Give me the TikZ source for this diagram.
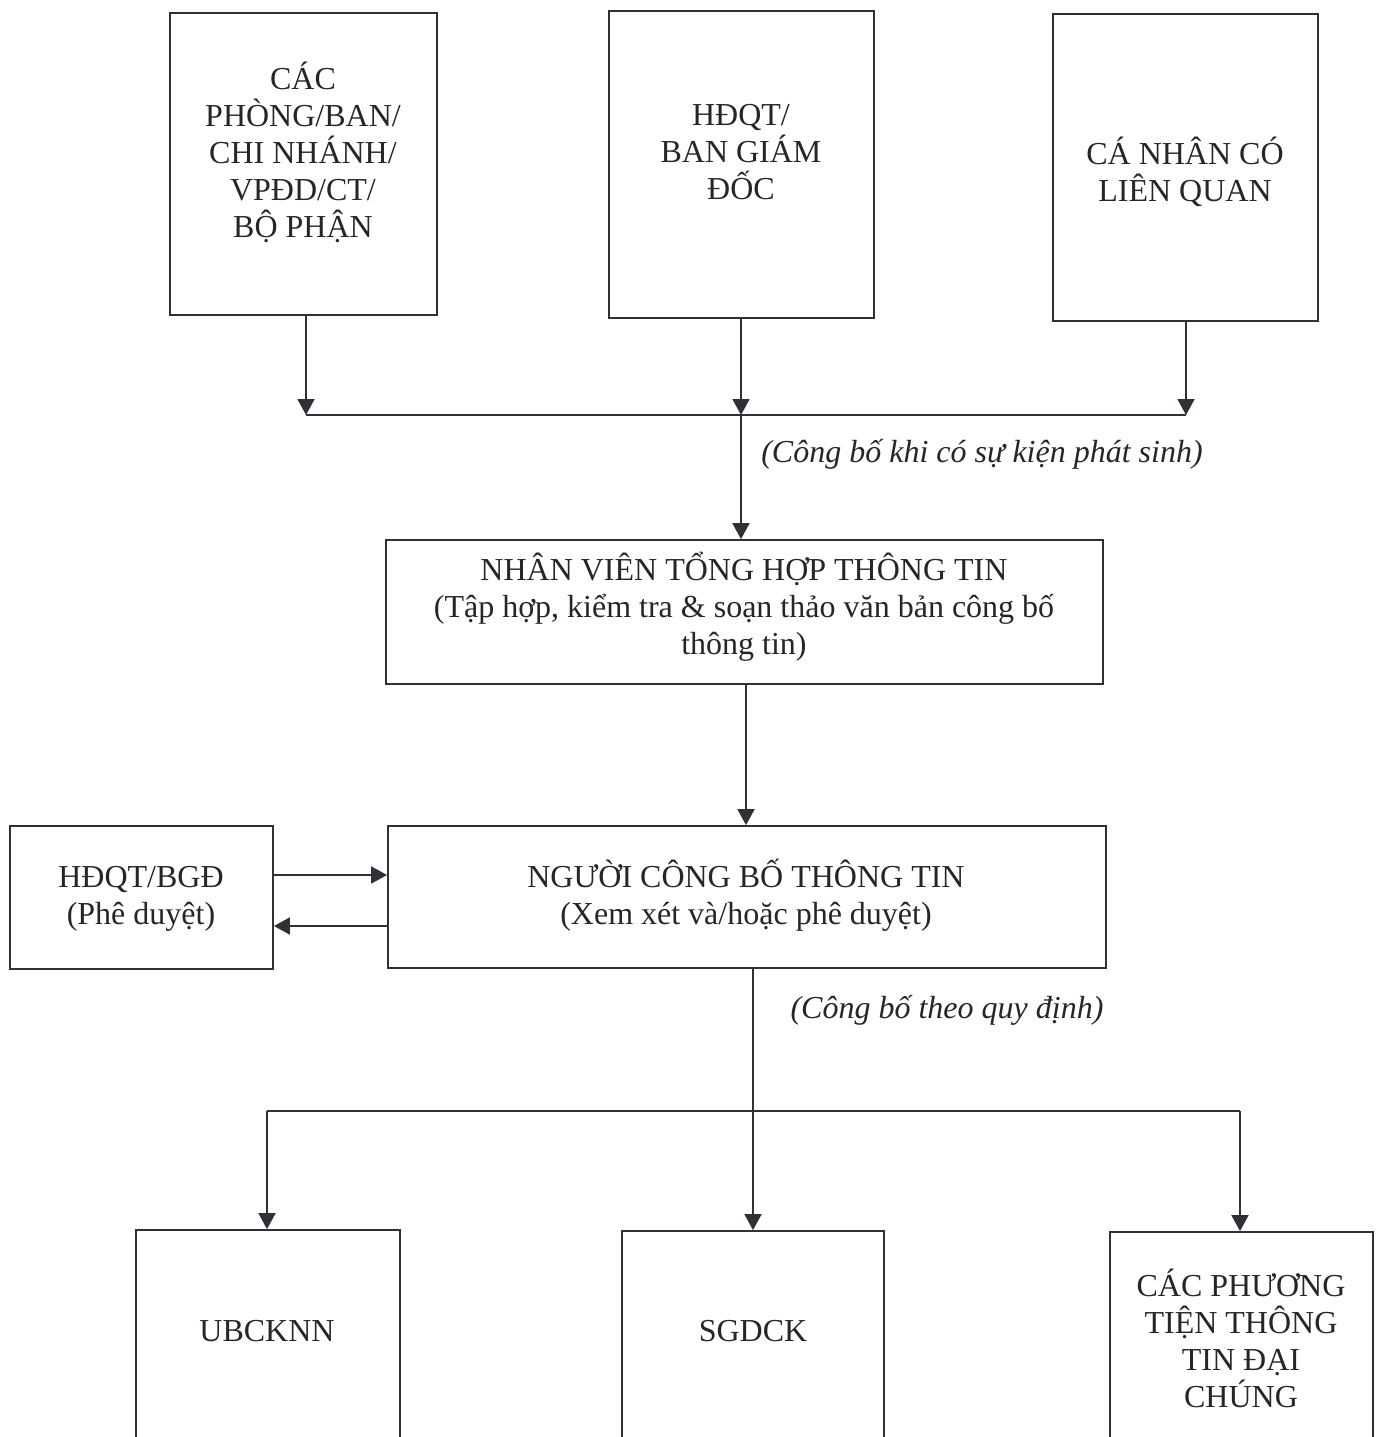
\documentclass[tikz,border=0pt]{standalone}
\usepackage{fontspec}
\setmainfont{Liberation Serif}
\usetikzlibrary{arrows.meta}
\definecolor{ln}{HTML}{2E3236}
\begin{document}
\begin{tikzpicture}[x=0.5pt,y=-0.5pt,
  box/.style={draw=ln, line width=0.9pt, inner sep=0, rectangle},
  txt/.style={align=center, font=\fontsize{16}{18.5}\selectfont, inner sep=0, text=black!85},
  lab/.style={font=\fontsize{16}{18.5}\selectfont\itshape, inner sep=0, text=black!85},
  wire/.style={draw=ln, line width=0.9pt},
  arr/.style={wire, -{Triangle[width=8.5pt,length=8pt]}}]
\clip (0,0) rectangle (1384,1437);
\fill[white] (0,0) rectangle (1384,1437);
% boxes
\node[box, minimum width=133.5pt, minimum height=151pt] (b1) at (303.5,164) {};
\node[box, minimum width=132.5pt, minimum height=153.5pt] (b2) at (741.5,164.5) {};
\node[box, minimum width=132.5pt, minimum height=153.5pt] (b3) at (1185.5,167.5) {};
\node[box, minimum width=358.5pt, minimum height=72pt] (b4) at (744.5,612) {};
\node[box, minimum width=359pt, minimum height=71pt] (b5) at (747,897) {};
\node[box, minimum width=131.5pt, minimum height=71.5pt] (b6) at (141.5,897.5) {};
\node[box, minimum width=132pt, minimum height=125pt] (b7) at (268,1355) {};
\node[box, minimum width=131pt, minimum height=124.5pt] (b8) at (753,1355.5) {};
\node[box, minimum width=131.5pt, minimum height=124pt] (b9) at (1241.5,1356) {};
% texts
\node[txt] (t1) at (303,152) {CÁC\\PHÒNG/BAN/\\CHI NHÁNH/\\VPĐD/CT/\\BỘ PHẬN};
\node[txt] (t2) at (741,152) {HĐQT/\\BAN GIÁM\\ĐỐC};
\node[txt] (t3) at (1185,172) {CÁ NHÂN CÓ\\LIÊN QUAN};
\node[txt] (t4) at (744,607) {NHÂN VIÊN TỔNG HỢP THÔNG TIN\\(Tập hợp, kiểm tra \& soạn thảo văn bản công bố\\thông tin)};
\node[txt] (t5) at (746,895) {NGƯỜI CÔNG BỐ THÔNG TIN\\(Xem xét và/hoặc phê duyệt)};
\node[txt] (t6) at (141,899) {HĐQT/BGĐ\\(Phê duyệt)};
\node[txt] (t7) at (267,1331) {UBCKNN};
\node[txt] (t8) at (753,1331) {SGDCK};
\node[txt] (t9) at (1241,1338) {CÁC PHƯƠNG\\TIỆN THÔNG\\TIN ĐẠI\\CHÚNG};
\node[lab] (l1) at (982,454) {(Công bố khi có sự kiện phát sinh)};
\node[lab] (l2) at (947,1010) {(Công bố theo quy định)};
% junctions
\coordinate (j1) at (306,415);
\coordinate (j2) at (741,415);
\coordinate (j3) at (1186,415);
\coordinate (m1) at (746,750);
\coordinate (r1) at (330,875);
\coordinate (r2) at (330,926);
\coordinate (j4) at (267,1111);
\coordinate (j5) at (753,1111);
\coordinate (j6) at (1240,1111);
% connectors
\draw[arr] (b1.south -| j1) -- (j1);
\draw[arr] (b2.south -| j2) -- (j2);
\draw[arr] (b3.south -| j3) -- (j3);
\draw[wire] (j1) -- (j3);
\draw[arr] (j2) -- (b4.north -| j2);
\draw[arr] (b4.south -| m1) -- (b5.north -| m1);
\draw[arr] (b6.east |- r1) -- (b5.west |- r1);
\draw[arr] (b5.west |- r2) -- (b6.east |- r2);
\draw[wire] (b5.south -| j5) -- (j5);
\draw[wire] (j4) -- (j6);
\draw[arr] (j4) -- (b7.north -| j4);
\draw[arr] (j5) -- (b8.north -| j5);
\draw[arr] (j6) -- (b9.north -| j6);
\end{tikzpicture}
\end{document}
